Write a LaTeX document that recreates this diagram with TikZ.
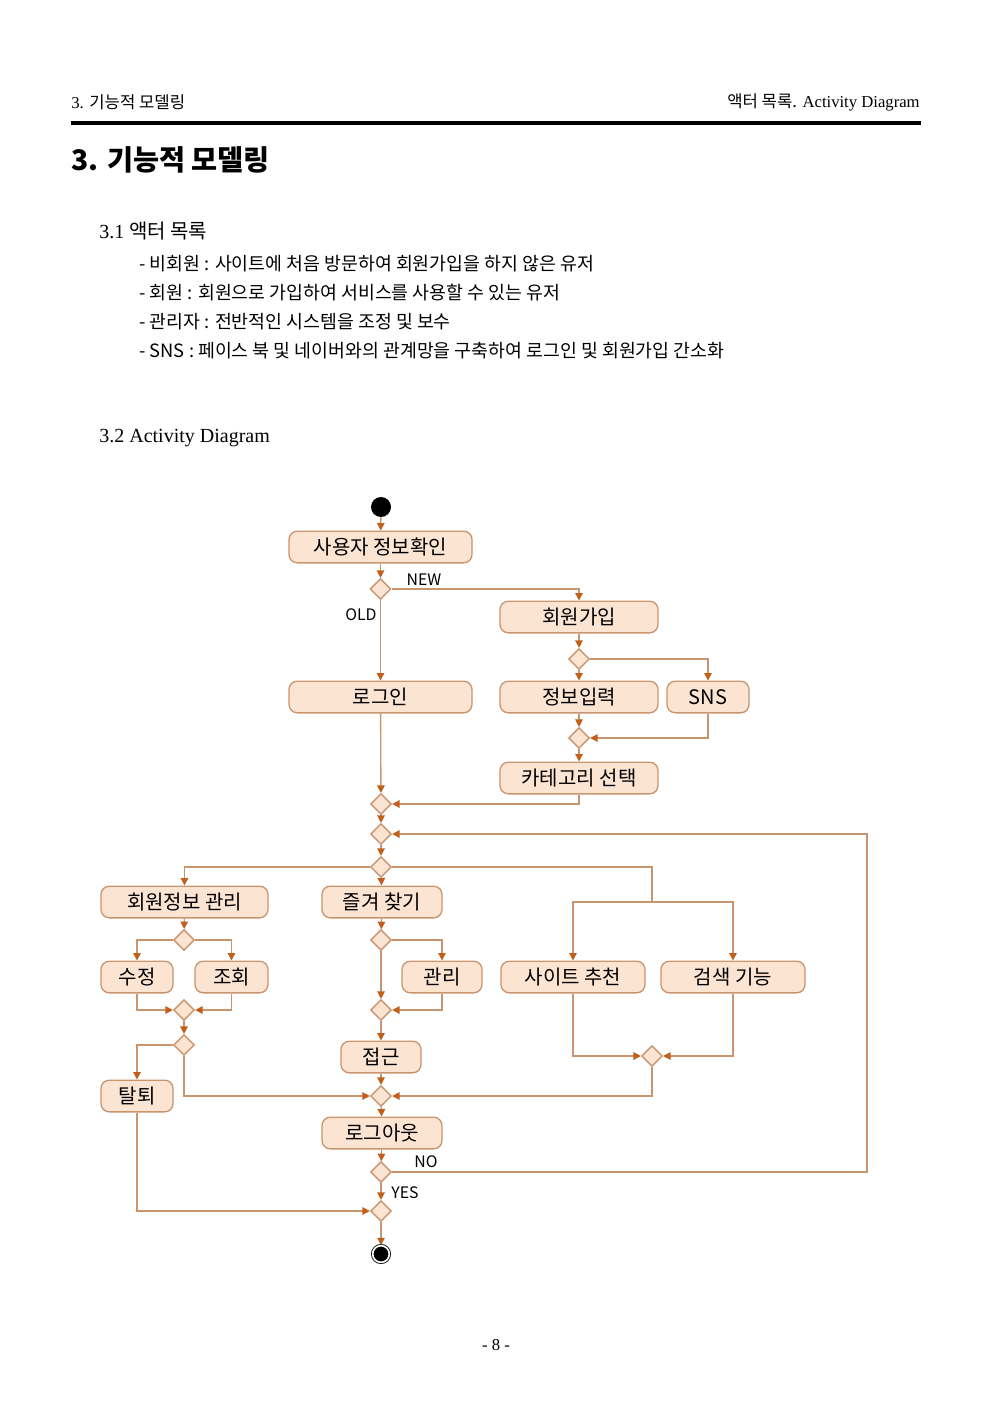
\documentclass[tikz,border=0pt]{standalone}
\usepackage{fontspec}
\setmainfont{Liberation Serif}
\newfontfamily\kr{Noto Sans CJK KR}
\usetikzlibrary{shapes.geometric,arrows.meta}
\definecolor{actline}{HTML}{C8956E}
\definecolor{actfill}{HTML}{FCE4D3}
\definecolor{tipcol}{HTML}{C0601C}
\begin{document}
\begin{tikzpicture}[x=0.6pt,y=-0.6pt,
    act/.style={draw=actline,fill=actfill,rounded corners=5pt,line width=0.8pt,minimum width=#1*0.6pt,minimum height=19pt,inner sep=0pt,font=\kr\fontsize{12}{12}\selectfont},
    dec/.style={diamond,draw=actline,fill=actfill,line width=0.8pt,minimum size=12.5pt,inner sep=0pt,aspect=1},
    flow/.style={draw=actline,line width=0.8pt,-{Triangle[length=4.5pt,width=4.5pt,color=tipcol]}},
    link/.style={draw=actline,line width=0.8pt},
    lbl/.style={font=\kr\fontsize{9.5}{9.5}\selectfont,inner sep=0pt},
    txt/.style={anchor=west,inner sep=0pt}]
  \useasboundingbox (0,0) rectangle (992,1403);
  % page header and text
  \node[txt,font=\fontsize{10}{10}\selectfont] (headl) at (71,102) {3. {\kr 기능적 모델링}};
  \node[txt,anchor=east,font=\fontsize{10}{10}\selectfont] (headr) at (920,102) {{\kr 액터 목록.} Activity Diagram};
  \fill (71,121) rectangle (921,125.5);
  \node[txt,font=\kr\bfseries\fontsize{17}{17}\selectfont] (title) at (71,160) {3. 기능적 모델링};
  \node[txt,font=\fontsize{12}{12}\selectfont] (sec1) at (99,231) {3.1 {\kr 액터 목록}};
  \node[txt,font=\kr\fontsize{11}{11}\selectfont] (item1) at (139,264) {- 비회원 : 사이트에 처음 방문하여 회원가입을 하지 않은 유저};
  \node[txt,font=\kr\fontsize{11}{11}\selectfont] (item2) at (139,293) {- 회원 : 회원으로 가입하여 서비스를 사용할 수 있는 유저};
  \node[txt,font=\kr\fontsize{11}{11}\selectfont] (item3) at (139,322) {- 관리자 : 전반적인 시스템을 조정 및 보수};
  \node[txt,font=\kr\fontsize{11}{11}\selectfont] (item4) at (139,351) {- SNS : 페이스 북 및 네이버와의 관계망을 구축하여 로그인 및 회원가입 간소화};
  \node[txt,font=\fontsize{12}{12}\selectfont] (sec2) at (99,438) {3.2 Activity Diagram};
  \node[font=\fontsize{10}{10}\selectfont,inner sep=0pt] (pageno) at (496,1345) {- 8 -};
  % activity nodes
  \node[circle,fill=black,minimum size=12pt,inner sep=0pt] (start) at (381,507) {};
  \node[act=183] (check) at (380.5,547) {사용자 정보확인};
  \node[dec] (d1) at (380.5,589) {};
  \node[act=158] (signup) at (579,617) {회원가입};
  \node[act=183] (login) at (380.5,697) {로그인};
  \node[dec] (d2) at (579,659) {};
  \node[act=158] (info) at (579,697) {정보입력};
  \node[act=82] (sns) at (708,697) {SNS};
  \node[dec] (d3) at (579,738) {};
  \node[act=158] (cat) at (579,778) {카테고리 선택};
  \node[dec] (d4) at (381,804) {};
  \node[dec] (d5) at (381,834) {};
  \node[dec] (d6) at (381,867) {};
  \node[act=167] (member) at (184.5,902) {회원정보 관리};
  \node[act=120] (fav) at (382,902) {즐겨 찾기};
  \coordinate (split) at (652,902);
  \node[act=144] (recommend) at (573,977) {사이트 추천};
  \node[act=144] (search) at (733,977) {검색 기능};
  \node[dec] (d7) at (184,940) {};
  \node[act=72] (edit) at (137,977) {수정};
  \node[act=73] (view) at (231.5,977) {조회};
  \node[dec] (d8) at (184,1010) {};
  \node[dec] (d8b) at (184,1045) {};
  \node[act=72] (quit) at (137,1096) {탈퇴};
  \node[dec] (d9) at (381,940) {};
  \node[act=80] (manage) at (442,977) {관리};
  \node[dec] (d10) at (381,1010) {};
  \node[act=80] (access) at (381,1057) {접근};
  \node[dec] (d12) at (652,1056) {};
  \node[dec] (d11) at (381,1096) {};
  \node[act=120] (logout) at (382,1133) {로그아웃};
  \node[dec] (d13) at (381,1172) {};
  \coordinate (loop) at (867,1172);
  \node[dec] (d14) at (381,1211) {};
  \node[circle,draw,fill=black,double=white,double distance=1pt,line width=0.5pt,minimum size=10pt,inner sep=0pt] (stop) at (381,1254) {};
  % guard labels
  \node[lbl] (newlbl) at (424,580) {NEW};
  \node[lbl] (oldlbl) at (361,615) {OLD};
  \node[lbl] (nolbl) at (426,1162) {NO};
  \node[lbl] (yeslbl) at (405,1193) {YES};
  % connectors
  \draw[flow] (start) -- (check);
  \draw[flow] (check) -- (d1);
  \draw[flow] (d1.east) -| (signup.north);
  \draw[flow] (d1) -- (login);
  \draw[flow] (signup) -- (d2);
  \draw[flow] (d2.east) -| (sns.north);
  \draw[flow] (d2) -- (info);
  \draw[flow] (info) -- (d3);
  \draw[flow] (sns.south) |- (d3.east);
  \draw[flow] (d3) -- (cat);
  \draw[flow] (cat.south) |- (d4.east);
  \draw[flow] (login) -- (d4);
  \draw[flow] (d4) -- (d5);
  \draw[flow] (d5) -- (d6);
  \draw[flow] (d6.west) -| (member.north);
  \draw[flow] (d6) -- (fav);
  \draw[link] (d6.east) -| (split);
  \draw[flow] (split) -| (recommend.north);
  \draw[flow] (split) -| (search.north);
  \draw[flow] (member) -- (d7);
  \draw[flow] (d7.west) -| (edit.north);
  \draw[flow] (d7.east) -| (view.north);
  \draw[flow] (edit.south) |- (d8.west);
  \draw[flow] (view.south) |- (d8.east);
  \draw[flow] (d8) -- (d8b);
  \draw[flow] (d8b.west) -| (quit.north);
  \draw[flow] (d8b.south) |- (d11.west);
  \draw[flow] (fav) -- (d9);
  \draw[flow] (d9.east) -| (manage.north);
  \draw[flow] (d9) -- (d10);
  \draw[flow] (manage.south) |- (d10.east);
  \draw[flow] (d10) -- (access);
  \draw[flow] (access) -- (d11);
  \draw[flow] (recommend.south) |- (d12.west);
  \draw[flow] (search.south) |- (d12.east);
  \draw[flow] (d12.south) |- (d11.east);
  \draw[flow] (d11) -- (logout);
  \draw[flow] (logout) -- (d13);
  \draw[flow] (d13.east) -- (loop) |- (d5.east);
  \draw[flow] (d13) -- (d14);
  \draw[flow] (quit.south) |- (d14.west);
  \draw[flow] (d14) -- (stop);
\end{tikzpicture}
\end{document}
